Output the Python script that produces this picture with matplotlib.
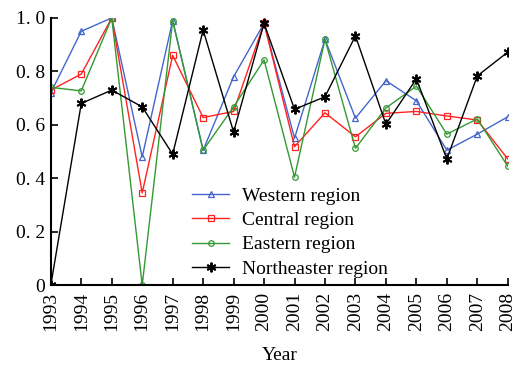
import matplotlib
matplotlib.use("Agg")
import matplotlib.pyplot as plt

# DATOS

years = list(range(1993, 2009))
western = [0.72, 0.95, 1.00, 0.48, 0.99, 0.505, 0.78, 0.98, 0.55, 0.92, 0.625, 0.765, 0.69, 0.505, 0.565, 0.63]
central = [0.73, 0.79, 1.00, 0.345, 0.86, 0.627, 0.65, 0.98, 0.518, 0.645, 0.555, 0.643, 0.65, 0.633, 0.618, 0.472]
eastern = [0.74, 0.727, 1.00, 0.0, 0.99, 0.505, 0.667, 0.843, 0.404, 0.92, 0.512, 0.663, 0.745, 0.565, 0.622, 0.445]
northeast = [0.0, 0.68, 0.73, 0.667, 0.49, 0.955, 0.573, 0.98, 0.658, 0.705, 0.933, 0.602, 0.772, 0.472, 0.783, 0.872]

ytick_vals = [0, 0.2, 0.4, 0.6, 0.8, 1.0]
ytick_labels = ["0", "0. 2", "0. 4", "0. 6", "0. 8", "1. 0"]

plt.rcParams["font.family"] = ["Liberation Serif", "DejaVu Serif"]

fig = plt.figure(figsize=(5.24, 3.66), dpi=100)
ax = fig.add_axes([0.097, 0.221, 0.872, 0.730])

ax.plot(years, western, color="#4466cc", linewidth=1, marker="^", markersize=5,
        markerfacecolor="none", markeredgewidth=0.9, label="Western region")
ax.plot(years, central, color="#ff2222", linewidth=1, marker="s", markersize=5,
        markerfacecolor="none", markeredgewidth=0.9, label="Central region")
ax.plot(years, eastern, color="#339933", linewidth=1, marker="o", markersize=4,
        markerfacecolor="none", markeredgewidth=0.9, label="Eastern region")
ax.plot(years, northeast, color="black", linewidth=1, marker=(6, 2, 0), markersize=7,
        markeredgewidth=1.4, label="Northeaster region")

ax.set_xlim(1993, 2008)
ax.set_ylim(0, 1.0)
ax.set_xticks(years)
ax.set_xticklabels([str(y) for y in years], rotation=90, fontsize=14)
ax.set_yticks(ytick_vals)
ax.set_yticklabels(ytick_labels, fontsize=14)
ax.tick_params(direction="in", length=5, width=1.2)
ax.tick_params(axis="x", pad=5)
ax.tick_params(axis="y", pad=4)

ax.spines["top"].set_visible(False)
ax.spines["right"].set_visible(False)
ax.spines["left"].set_linewidth(1.5)
ax.spines["bottom"].set_linewidth(1.5)

ax.set_xlabel("Year", fontsize=14, labelpad=11)

ax.legend(loc="upper left", bbox_to_anchor=(0.31, 0.366), frameon=False, fontsize=14,
          handlelength=1.9, labelspacing=0.34, handletextpad=0.65,
          borderpad=0, borderaxespad=0)

fig.patch.set_facecolor("white")
plt.savefig("out.png", dpi=100)
